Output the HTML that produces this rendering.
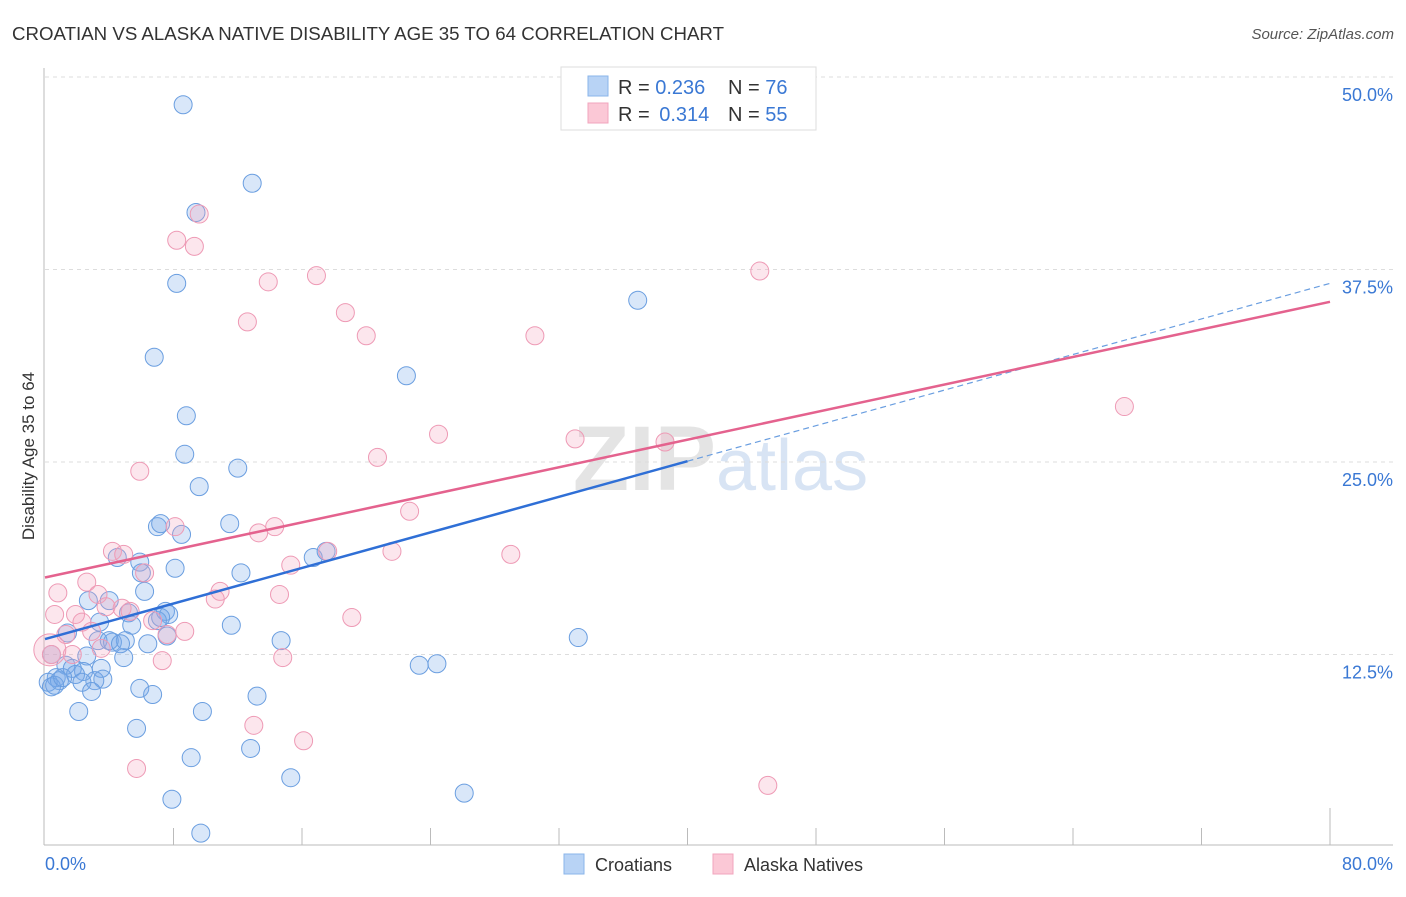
<!DOCTYPE html>
<html><head><meta charset="utf-8"><style>
body{margin:0;background:#fff;font-family:"Liberation Sans",sans-serif;}
svg text{font-family:"Liberation Sans",sans-serif;}
</style></head><body>
<svg id="chart" width="1406" height="892" xmlns="http://www.w3.org/2000/svg">
<text x="12" y="40" font-size="18" fill="#333" textLength="712" lengthAdjust="spacingAndGlyphs">CROATIAN VS ALASKA NATIVE DISABILITY AGE 35 TO 64 CORRELATION CHART</text>
<text x="1394" y="39" font-size="15" fill="#555" font-style="italic" text-anchor="end">Source: ZipAtlas.com</text>
<text x="716" y="490" font-size="92" fill="#e4e4e4" text-anchor="end" font-family="Liberation Serif" font-weight="bold">ZIP</text>
<text x="716" y="490" font-size="72" fill="#d8e4f4">atlas</text>
<g id="grid"></g><g id="axes"></g><g id="pts"></g><g id="lines"></g>
<text transform="translate(34,456) rotate(-90)" font-size="17" fill="#333" text-anchor="middle">Disability Age 35 to 64</text>
<g>
<rect x="561" y="67" width="255" height="63" fill="#fff" stroke="#ddd"/>
<rect x="588" y="76" width="20" height="20" fill="#b8d3f5" stroke="#8ab4ea"/>
<rect x="588" y="103" width="20" height="20" fill="#fbc8d6" stroke="#f2a5bd"/>
<text x="618" y="94" font-size="20" fill="#333">R = <tspan fill="#3a78d4">0.236</tspan><tspan x="728">N = </tspan><tspan fill="#3a78d4">76</tspan></text>
<text x="618" y="121" font-size="20" fill="#333">R = <tspan fill="#3a78d4" dx="4">0.314</tspan><tspan x="728">N = </tspan><tspan fill="#3a78d4">55</tspan></text>
</g>
<g>
<rect x="564" y="854" width="20" height="20" fill="#b8d3f5" stroke="#8ab4ea"/>
<text x="595" y="871" font-size="18" fill="#333">Croatians</text>
<rect x="713" y="854" width="20" height="20" fill="#fbc8d6" stroke="#f2a5bd"/>
<text x="744" y="871" font-size="18" fill="#333">Alaska Natives</text>
</g>
</svg>
<script>
const yTicks=[12.5,25,37.5,50];
const yTickLabels=["12.5%","25.0%","37.5%","50.0%"];
const xTickLabels=["0.0%","80.0%"];
const croX=[8.6,12.9,9.4,8.2,36.9,6.8,22.5,8.8,8.7,12.0,9.6,7.0,7.2,11.5,8.5,4.5,5.9,8.1,6.0,12.2,16.7,17.5,6.2,4.0,2.7,7.5,7.7,7.0,5.2,3.4,5.4,11.6,1.4,7.6,3.3,4.2,5.0,6.4,14.7,33.2,2.6,4.9,0.4,1.3,1.7,3.5,2.4,0.7,1.9,3.6,3.1,0.2,0.9,2.3,0.4,2.9,5.9,6.7,13.2,2.1,9.8,5.7,12.8,9.1,15.3,23.3,24.4,26.1,7.9,9.7,0.6,1.1,4.0,4.7,7.2];
const croY=[48.2,43.1,41.2,36.6,35.5,31.8,30.6,28.0,25.5,24.6,23.4,20.8,21.0,21.0,20.3,18.8,18.5,18.1,17.8,17.8,18.8,19.2,16.6,16.0,16.0,15.3,15.1,14.7,15.2,14.6,14.4,14.4,13.9,13.7,13.4,13.3,13.4,13.2,13.4,13.6,12.4,12.3,12.5,11.8,11.6,11.6,11.4,11.0,11.2,10.9,10.8,10.7,10.8,10.7,10.4,10.1,10.3,9.9,9.8,8.8,8.8,7.7,6.4,5.8,4.5,11.8,11.9,3.5,3.1,0.9,10.5,11.0,13.4,13.2,14.9];
const akX=[9.6,8.2,9.3,13.9,16.9,44.5,12.6,18.7,20.0,30.5,67.2,24.5,33.0,38.6,5.9,20.7,22.7,8.1,14.3,13.3,4.2,4.9,21.6,29.0,17.6,6.2,15.3,2.6,0.8,3.3,10.9,14.6,10.6,3.8,4.8,0.6,1.9,5.3,6.7,2.3,19.1,1.3,2.9,8.7,7.6,3.5,0.4,1.7,7.3,14.8,13.0,16.1,5.7,45.0,0.3];
const akY=[41.1,39.4,39.0,36.7,37.1,37.4,34.1,34.7,33.2,33.2,28.6,26.8,26.5,26.3,24.4,25.3,21.8,20.8,20.8,20.4,19.2,19.0,19.2,19.0,19.2,17.8,18.3,17.2,16.5,16.4,16.6,16.4,16.1,15.6,15.5,15.1,15.1,15.3,14.7,14.6,14.9,13.8,14.0,14.0,13.8,12.9,12.5,12.5,12.1,12.3,7.9,6.9,5.1,4.0,12.8];
const croTrend=[13.5,36.6];
const akTrend=[17.5,35.4];
const croSolidEnd=40;

const NS="http://www.w3.org/2000/svg";
const X=v=>45+v/80*1285;
const Y=v=>847-v/12.5*192.5;
function mk(tag,attrs,parent){const e=document.createElementNS(NS,tag);for(const k in attrs)e.setAttribute(k,attrs[k]);document.getElementById(parent).appendChild(e);return e;}
yTicks.forEach((t,i)=>{
 const g=mk('line',{x1:45,x2:1393,y1:Y(t),y2:Y(t),stroke:'#ddd','stroke-dasharray':'4,4'},'grid');
 
 
 const l=mk('text',{x:1393,y:Y(t)+24,'font-size':18,fill:'#3a78d4','text-anchor':'end'},'grid');
 l.textContent=yTickLabels[i];
 
 
});
const ax=mk('line',{x1:44,x2:44,y1:68,y2:845,stroke:'#bbb'},'axes');


const bx=mk('line',{x1:44,x2:1393,y1:845,y2:845,stroke:'#bbb'},'axes');


for(let i=1;i<=10;i++){
 const t=mk('line',{x1:X(i*8),x2:X(i*8),y1:i==10?808:828,y2:845,stroke:'#bbb'},'axes');
 
 
}
[[0,'start',45],[80,'end',1393]].forEach((d,i)=>{
 const l=mk('text',{x:d[2],y:870,'font-size':18,fill:'#3a78d4','text-anchor':d[1]},'axes');
 l.textContent=xTickLabels[i];
 
 
});
croX.forEach((x,i)=>{
 const c=mk('circle',{cx:X(x),cy:Y(croY[i]),r:9,fill:'rgba(120,170,232,0.28)',stroke:'#6a9ee0','stroke-width':1},'pts');
 
 
});
akX.forEach((x,i)=>{
 const c=mk('circle',{cx:X(x),cy:Y(akY[i]),r:i==akX.length-1?16:9,fill:'rgba(245,165,190,0.28)',stroke:'#ee9ab5','stroke-width':1},'pts');
 
 
});
const cy=x=>croTrend[0]+(croTrend[1]-croTrend[0])*x/80;
const l1=mk('line',{x1:X(0),y1:Y(cy(0)),x2:X(croSolidEnd),y2:Y(cy(croSolidEnd)),stroke:'#2f6fd6','stroke-width':2.5},'lines');


const l2=mk('line',{x1:X(croSolidEnd),y1:Y(cy(croSolidEnd)),x2:X(80),y2:Y(cy(80)),stroke:'#6a9ee0','stroke-width':1.2,'stroke-dasharray':'6,4'},'lines');


const l3=mk('line',{x1:X(0),y1:Y(akTrend[0]),x2:X(80),y2:Y(akTrend[1]),stroke:'#e4628e','stroke-width':2.5},'lines');


</script>
</body></html>
